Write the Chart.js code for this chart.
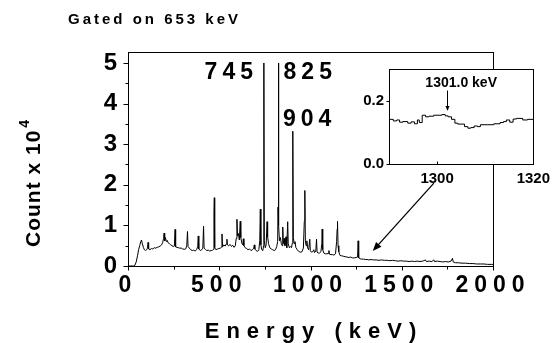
<!DOCTYPE html>
<html><head><meta charset="utf-8">
<script src="https://cdn.jsdelivr.net/npm/chart.js@4.4.1/dist/chart.umd.min.js"></script>
<style>
html,body{margin:0;padding:0;background:#fff;}
#wrap{position:relative;width:556px;height:343px;overflow:hidden;}
#main{position:absolute;left:0;top:0;}
#inset{position:absolute;left:350px;top:55px;}
</style></head><body>
<div id="wrap"><canvas id="main" width="556" height="343"></canvas><canvas id="inset" width="206" height="135"></canvas></div>
<script>
// ---- data (counts in units of 10^4) ----
const energyKeV = [
  0,30,38,45,52,58,64,70,74,78,
  84,90,96,102,107,110,113,120,128,136,
  144,152,160,168,176,184,190,195,198,201,
  205,210,215,220,227,234,241,248,254,258,
  261,268,276,284,292,300,308,316,322,326,
  329,336,344,352,360,368,376,382,385,388,
  396,404,410,414,417,424,432,440,448,456,
  464,470,471,473,475,482,490,498,506,512,
  515,518,525,532,538,542,545,552,560,567,
  574,581,588,593,597,600,605,610,615,618,
  624,629,632,635,642,650,658,666,674,682,
  689,692,695,702,710,717,722,725,728,733,
  739,743,744,745,747,752,757,762,765,770,
  777,785,793,801,808,815,820,822,824,825,
  827,830,835,840,845,848,851,856,860,866,
  870,875,878,884,890,896,900,902,904,906,
  910,915,920,928,935,944,953,961,966,969,
  972,976,980,984,990,996,999,1005,1012,1018,
  1022,1029,1033,1036,1042,1050,1057,1062,1064,1067,
  1073,1081,1090,1097,1101,1104,1112,1120,1129,1137,
  1143,1146,1148,1151,1155,1162,1171,1180,1190,1200,
  1210,1220,1230,1240,1250,1258,1261,1264,1272,1280,
  1290,1300,1310,1320,1332,1345,1360,1375,1390,1405,
  1420,1435,1450,1465,1480,1495,1510,1525,1540,1555,
  1570,1585,1600,1615,1630,1635,1650,1665,1676,1680,
  1695,1710,1725,1740,1755,1770,1778,1782,1795,1810,
  1830,1850,1870,1890,1910,1930,1950,1970,1990,2000
];
const countsE4 = [
  0,0,0.02,0.1,0.25,0.4,0.5,0.6,0.64,0.56,
  0.46,0.40,0.38,0.40,0.44,0.58,0.42,0.40,0.43,0.42,
  0.45,0.44,0.46,0.47,0.49,0.52,0.58,0.68,0.81,0.62,
  0.70,0.60,0.63,0.57,0.55,0.52,0.50,0.48,0.49,0.90,
  0.47,0.46,0.45,0.44,0.44,0.42,0.41,0.42,0.50,0.85,
  0.48,0.44,0.40,0.38,0.39,0.37,0.40,0.48,0.74,0.42,
  0.38,0.40,0.44,0.98,0.44,0.41,0.38,0.39,0.37,0.38,
  0.39,0.41,1.30,1.68,0.45,0.40,0.42,0.43,0.44,0.46,
  0.79,0.47,0.52,0.49,0.54,0.66,0.52,0.50,0.53,0.48,
  0.51,0.46,0.50,0.68,1.15,0.74,0.80,0.64,1.10,0.70,
  0.56,0.52,0.67,0.50,0.45,0.43,0.40,0.42,0.38,0.40,
  0.44,0.52,0.42,0.38,0.36,0.40,0.62,1.40,0.52,0.40,
  0.38,0.50,1.20,5.00,0.62,0.45,0.52,1.09,0.72,0.55,
  0.45,0.42,0.40,0.38,0.40,0.48,0.60,1.45,2.57,5.00,
  1.00,0.62,0.70,0.55,0.50,0.96,0.55,0.68,0.50,0.72,
  0.45,1.09,0.55,0.45,0.48,0.45,0.56,1.50,3.32,0.70,
  0.55,0.60,0.45,0.40,0.36,0.34,0.35,0.44,1.10,1.86,
  0.62,0.50,0.62,0.45,0.40,0.66,0.38,0.34,0.35,0.40,
  0.33,0.37,0.66,0.34,0.32,0.32,0.35,0.55,0.91,0.40,
  0.32,0.30,0.30,0.31,0.38,0.29,0.28,0.28,0.27,0.30,
  0.60,0.91,1.10,0.50,0.35,0.26,0.25,0.24,0.23,0.22,
  0.21,0.22,0.20,0.20,0.21,0.22,0.62,0.20,0.18,0.17,
  0.17,0.16,0.16,0.15,0.16,0.15,0.15,0.14,0.15,0.14,
  0.14,0.13,0.14,0.13,0.12,0.13,0.12,0.12,0.11,0.12,
  0.11,0.12,0.11,0.12,0.15,0.11,0.12,0.11,0.15,0.11,
  0.12,0.11,0.10,0.11,0.10,0.12,0.19,0.10,0.08,0.08,
  0.07,0.07,0.06,0.06,0.05,0.05,0.05,0.04,0.04,0.04
];
const xTickValues = [0, 500, 1000, 1500, 2000];
const xTickLabels = ['0', '500', '1000', '1500', '2000'];
const xMinorTicks = [250, 750, 1250, 1750];
const yTickValues = [0, 1, 2, 3, 4, 5];
const yTickLabels = ['0', '1', '2', '3', '4', '5'];
const yMinorTicks = [0.5, 1.5, 2.5, 3.5, 4.5];
const peakEnergies = [745, 825, 904];
const peakLabels = ['745', '825', '904'];

const insetEnergyKeV = [1290.0,1290.9,1291.6,1292.2,1292.9,1293.9,1294.6,1295.3,1295.9,1296.3,
  1296.9,1297.6,1298.3,1299.3,1301.0,1301.7,1302.3,1303.0,1303.7,1304.3,
  1305.7,1306.4,1307.0,1307.7,1308.4,1309.0,1310.4,1311.8,1313.1,1313.8,
  1314.4,1315.1,1315.8,1316.5,1317.8,1318.8,1320.0];
const insetCountsE4 = [0.141,0.136,0.139,0.132,0.134,0.129,0.133,0.127,0.139,0.131,
  0.154,0.149,0.151,0.154,0.156,0.152,0.149,0.141,0.129,0.126,
  0.118,0.113,0.115,0.120,0.118,0.124,0.124,0.127,0.131,0.134,
  0.139,0.132,0.142,0.144,0.139,0.141,0.139];
const insetXTickValues = [1300, 1320];
const insetXTickLabels = ['1300', '1320'];
const insetYTickValues = [0, 0.2];
const insetYTickLabels = ['0.0', '0.2'];
const insetPeakEnergy = 1302;
const insetPeakLabel = '1301.0 keV';

const chartTitle = 'Gated on 653 keV';
const xAxisTitle = 'Energy (keV)';
const yAxisTitle = 'Count x 10';
const yAxisTitleExp = '4';

// ---- styling ----
const FONT = 'Arial, "Liberation Sans", Helvetica, sans-serif';
const bold = (s) => ({ family: FONT, size: s, weight: 'bold' });

function text(ctx, str, x, y, size, align, spacing) {
  ctx.save();
  ctx.font = 'bold ' + size + 'px ' + FONT;
  ctx.letterSpacing = (spacing || 0) + 'px';
  ctx.textBaseline = 'middle';
  ctx.fillStyle = '#000';
  const w = ctx.measureText(str).width - (spacing || 0);
  let sx = x;
  if (align === 'center') sx = x - w / 2;
  else if (align === 'right') sx = x - w;
  ctx.textAlign = 'left';
  ctx.fillText(str, sx, y);
  ctx.restore();
  return w;
}

function arrow(ctx, x1, y1, x2, y2, head, lw) {
  const ang = Math.atan2(y2 - y1, x2 - x1);
  ctx.save();
  ctx.strokeStyle = '#000'; ctx.fillStyle = '#000'; ctx.lineWidth = lw;
  ctx.beginPath();
  ctx.moveTo(x1, y1);
  ctx.lineTo(x2 - Math.cos(ang) * head * 0.8, y2 - Math.sin(ang) * head * 0.8);
  ctx.stroke();
  ctx.beginPath();
  ctx.moveTo(x2, y2);
  ctx.lineTo(x2 - head * Math.cos(ang) + head * 0.4 * Math.sin(ang), y2 - head * Math.sin(ang) - head * 0.4 * Math.cos(ang));
  ctx.lineTo(x2 - head * Math.cos(ang) - head * 0.4 * Math.sin(ang), y2 - head * Math.sin(ang) + head * 0.4 * Math.cos(ang));
  ctx.closePath();
  ctx.fill();
  ctx.restore();
}

function spacedLabels(scale, spacing) {
  if (scale._spacedPatched) return;
  const orig = scale.drawLabels.bind(scale);
  scale.drawLabels = function (area) {
    this.ctx.save();
    this.ctx.letterSpacing = spacing + 'px';
    orig(area);
    this.ctx.restore();
  };
  scale._spacedPatched = true;
}

const mainDecor = {
  id: 'mainDecor',
  afterDraw(chart) {
    const { ctx, chartArea: a, scales: { x, y } } = chart;
    ctx.save();
    ctx.strokeStyle = '#000';
    ctx.lineWidth = 1;
    ctx.strokeRect(Math.round(a.left) + 0.5, Math.round(a.top) + 0.5, Math.round(a.right - a.left), Math.round(a.bottom - a.top));
    ctx.beginPath();
    const b = Math.round(a.bottom) + 0.5, l = Math.round(a.left) + 0.5;
    xTickValues.forEach(v => { const p = Math.round(x.getPixelForValue(v)) + 0.5; ctx.moveTo(p, b); ctx.lineTo(p, b + 4); });
    xMinorTicks.forEach(v => { const p = Math.round(x.getPixelForValue(v)) + 0.5; ctx.moveTo(p, b); ctx.lineTo(p, b + 3); });
    yTickValues.forEach(v => { const p = Math.round(y.getPixelForValue(v)) + 0.5; ctx.moveTo(l, p); ctx.lineTo(l - 5, p); });
    yMinorTicks.forEach(v => { const p = Math.round(y.getPixelForValue(v)) + 0.5; ctx.moveTo(l, p); ctx.lineTo(l - 3, p); });
    ctx.stroke();
    ctx.restore();

    // titles
    text(ctx, chartTitle, 68, 20, 15, 'left', 3);
    text(ctx, xAxisTitle, (a.left + a.right) / 2, 332, 22, 'center', 7);
    ctx.save();
    ctx.translate(34, 172);
    ctx.rotate(-Math.PI / 2);
    const w = text(ctx, yAxisTitle, -75, 0, 21, 'left', 1);
    text(ctx, yAxisTitleExp, -75 + w + 3, -9, 14, 'left', 0);
    ctx.restore();

    // peak labels
    const top = y.getPixelForValue(4.75);
    text(ctx, peakLabels[0], x.getPixelForValue(peakEnergies[0]) - 11, top, 23, 'right', 5);
    text(ctx, peakLabels[1], x.getPixelForValue(peakEnergies[1]) + 5, top, 23, 'left', 5);
    text(ctx, peakLabels[2], x.getPixelForValue(peakEnergies[2]) - 10, y.getPixelForValue(countsE4[energyKeV.indexOf(peakEnergies[2])]) - 12, 23, 'left', 5);

    // arrow toward the inset region
    arrow(ctx, x.getPixelForValue(1676), y.getPixelForValue(2.04), x.getPixelForValue(1341), y.getPixelForValue(0.37), 9, 1.3);
  }
};

new Chart(document.getElementById('main'), {
  type: 'line',
  data: { datasets: [{
    data: energyKeV.map((e, i) => ({ x: e, y: countsE4[i] })),
    borderColor: '#000', borderWidth: 1, pointRadius: 0, tension: 0, fill: false
  }] },
  options: {
    responsive: false, animation: false, devicePixelRatio: 1,
    layout: { padding: { left: 0, right: 63, top: 52, bottom: 0 }, autoPadding: false },
    plugins: { legend: { display: false }, title: { display: false }, tooltip: { enabled: false } },
    scales: {
      x: {
        type: 'linear', min: 0, max: 2000,
        grid: { display: false, drawTicks: false }, border: { display: false },
        afterBuildTicks: s => { s.ticks = xTickValues.map(v => ({ value: v })); },
        afterFit: s => { s.height = 77; spacedLabels(s, 6); },
        ticks: { autoSkip: false, maxRotation: 0, minRotation: 0, padding: 6, color: '#000', font: bold(23),
                 callback: (v, i) => xTickLabels[i] }
      },
      y: {
        type: 'linear', min: 0, max: 5.27,
        grid: { display: false, drawTicks: false }, border: { display: false },
        afterBuildTicks: s => { s.ticks = yTickValues.map(v => ({ value: v })); },
        afterFit: s => { s.width = 128; },
        ticks: { autoSkip: false, padding: 11, color: '#000', font: bold(24),
                 callback: (v, i) => yTickLabels[i] }
      }
    }
  },
  plugins: [mainDecor]
});

const insetDecor = {
  id: 'insetDecor',
  beforeDraw(chart) {
    const { ctx, chartArea: a } = chart;
    ctx.save();
    ctx.fillStyle = '#fff';
    ctx.fillRect(a.left, a.top, a.right - a.left, a.bottom - a.top);
    ctx.restore();
  },
  afterDraw(chart) {
    const { ctx, chartArea: a, scales: { x, y } } = chart;
    ctx.save();
    ctx.strokeStyle = '#000'; ctx.lineWidth = 1;
    ctx.strokeRect(Math.round(a.left) + 0.5, Math.round(a.top) + 0.5, Math.round(a.right - a.left), Math.round(a.bottom - a.top));
    ctx.beginPath();
    const b = Math.round(a.bottom) + 0.5, l = Math.round(a.left) + 0.5;
    insetXTickValues.forEach(v => { const p = Math.round(x.getPixelForValue(v)) + 0.5; ctx.moveTo(p, b); ctx.lineTo(p, b - 3); });
    insetYTickValues.forEach(v => { const p = Math.round(y.getPixelForValue(v)) + 0.5; ctx.moveTo(l, p); ctx.lineTo(l - 3, p); });
    ctx.stroke();
    ctx.restore();
    const px = Math.round(x.getPixelForValue(insetPeakEnergy)) + 0.5;
    text(ctx, insetPeakLabel, x.getPixelForValue(1305), y.getPixelForValue(0.256), 14, 'center', 0);
    arrow(ctx, px, y.getPixelForValue(0.232), px, y.getPixelForValue(0.167), 5, 1);
  }
};

new Chart(document.getElementById('inset'), {
  type: 'line',
  data: { datasets: [{
    data: insetEnergyKeV.map((e, i) => ({ x: e, y: insetCountsE4[i] })),
    stepped: true, borderColor: '#000', borderWidth: 1, pointRadius: 0, fill: false
  }] },
  options: {
    responsive: false, animation: false, devicePixelRatio: 1,
    layout: { padding: { left: 0, right: 19, top: 8, bottom: 0 }, autoPadding: false },
    plugins: { legend: { display: false }, title: { display: false }, tooltip: { enabled: false } },
    scales: {
      x: {
        type: 'linear', min: 1290, max: 1320,
        grid: { display: false, drawTicks: false }, border: { display: false },
        afterBuildTicks: s => { s.ticks = insetXTickValues.map(v => ({ value: v })); },
        afterFit: s => { s.height = 26; },
        ticks: { autoSkip: false, maxRotation: 0, padding: 6, color: '#000', font: bold(15),
                 callback: (v, i) => insetXTickLabels[i] }
      },
      y: {
        type: 'linear', min: 0, max: 0.3,
        grid: { display: false, drawTicks: false }, border: { display: false },
        afterBuildTicks: s => { s.ticks = insetYTickValues.map(v => ({ value: v })); },
        afterFit: s => { s.width = 39; },
        ticks: { autoSkip: false, padding: 5, color: '#000', font: bold(15),
                 callback: (v, i) => insetYTickLabels[i] }
      }
    }
  },
  plugins: [insetDecor]
});
</script>
</body></html>
